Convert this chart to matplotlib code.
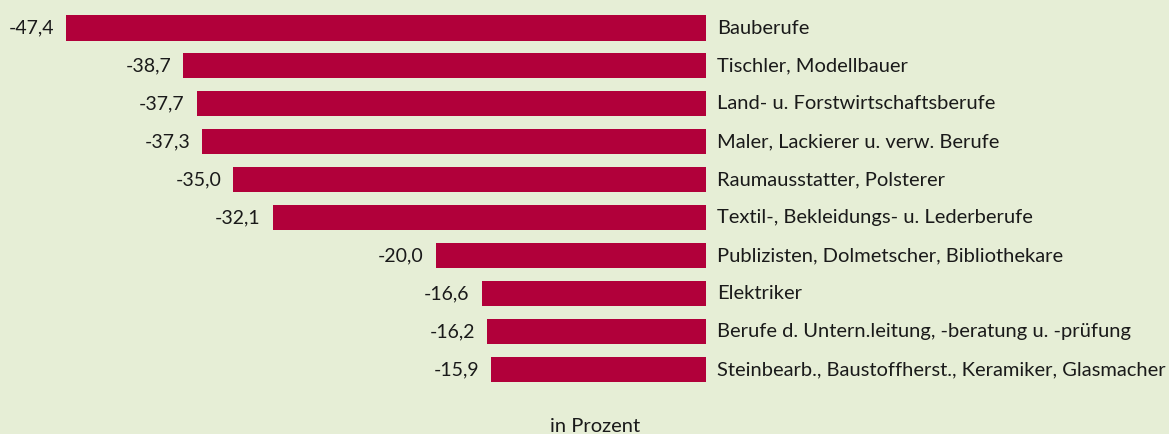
import matplotlib.pyplot as plt

# Daten
berufe = [
    "Bauberufe",
    "Tischler, Modellbauer",
    "Land- u. Forstwirtschaftsberufe",
    "Maler, Lackierer u. verw. Berufe",
    "Raumausstatter, Polsterer",
    "Textil-, Bekleidungs- u. Lederberufe",
    "Publizisten, Dolmetscher, Bibliothekare",
    "Elektriker",
    "Berufe d. Untern.leitung, -beratung u. -prüfung",
    "Steinbearb., Baustoffherst., Keramiker, Glasmacher",
]
werte = [-47.4, -38.7, -37.7, -37.3, -35.0, -32.1, -20.0, -16.6, -16.2, -15.9]

BG = "#E6EED6"
BAR = "#B1003A"

plt.rcParams["font.family"] = ["Lato", "DejaVu Sans"]

fig = plt.figure(figsize=(11.69, 4.34), dpi=100, facecolor=BG)
ax = fig.add_axes([0, 0, 1, 1], facecolor=BG)

pos = list(range(len(werte)))
ax.barh(pos, werte, height=0.66, color=BAR)

for y, v, name in zip(pos, werte, berufe):
    ax.text(v - 0.9, y, f"{v:.1f}".replace(".", ","), ha="right", va="center",
            fontsize=14, color="#1a1a1a")
    ax.text(0.8, y, name, ha="left", va="center", fontsize=14.5, color="#1a1a1a")

ax.set_xlim(-52.29, 34.29)
ax.set_ylim(10.70, -0.738)
ax.axis("off")

fig.text(595 / 1169, 1 - 426 / 434, "in Prozent", ha="center", va="center",
         fontsize=14.5, color="#1a1a1a")

fig.savefig("out.png", dpi=100, facecolor=BG)
